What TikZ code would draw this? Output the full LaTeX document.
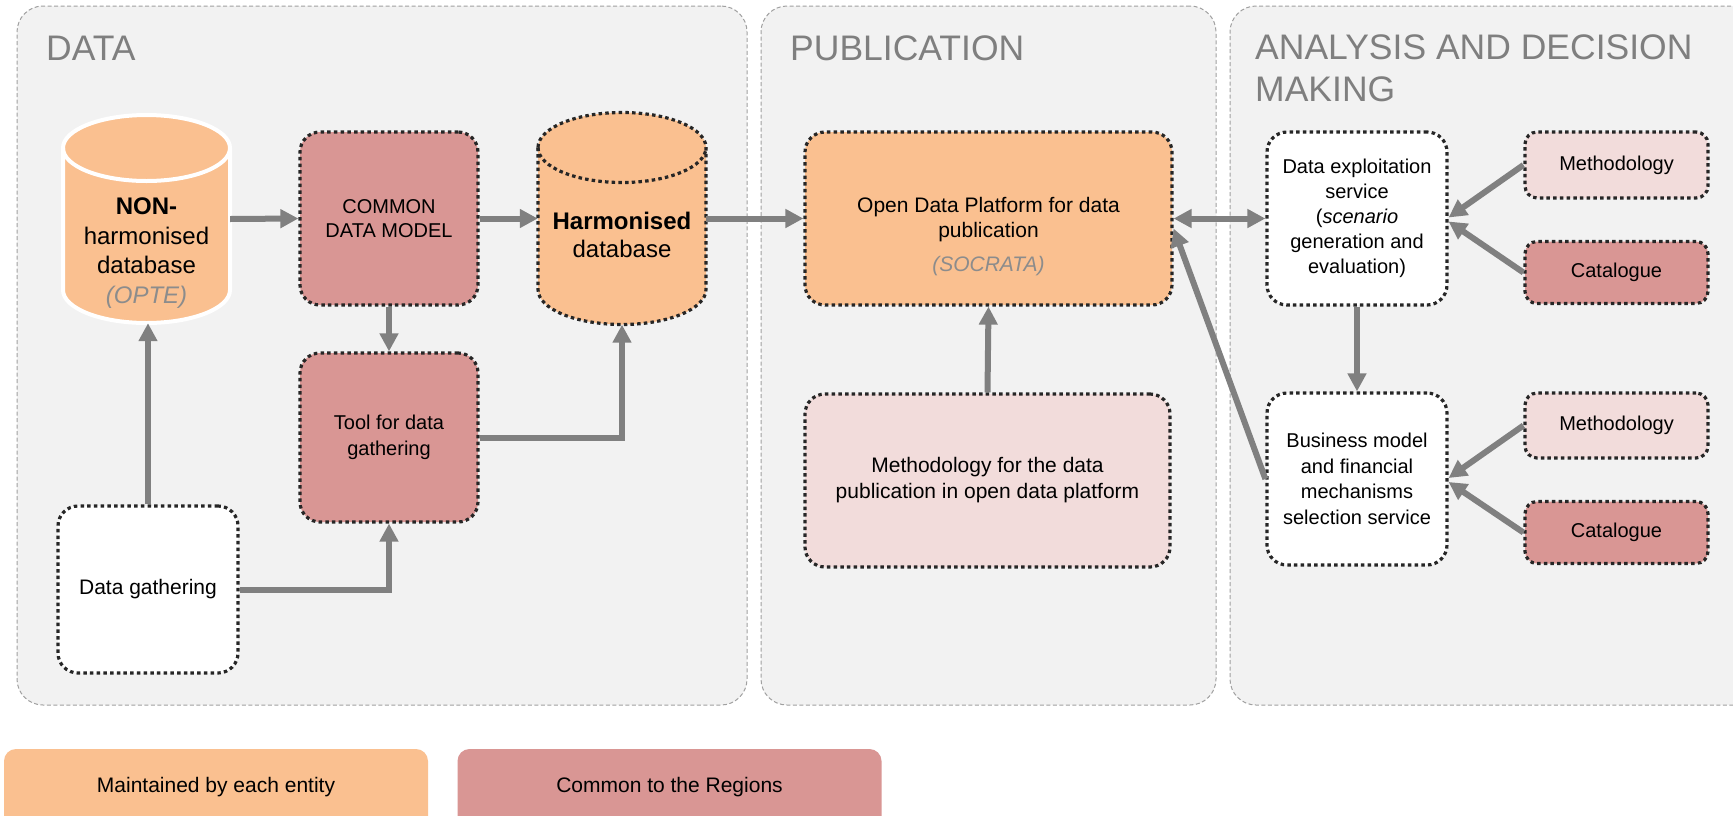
\documentclass[tikz,border=0pt]{standalone}
\usepackage{fontspec}
\setmainfont{Liberation Sans}
\usetikzlibrary{arrows.meta}
\definecolor{orangec}{HTML}{FAC090}
\definecolor{redc}{HTML}{D99694}
\definecolor{pinkc}{HTML}{F2DCDB}
\definecolor{panelfill}{HTML}{F2F2F2}
\definecolor{panelline}{HTML}{A0A0A0}
\definecolor{arrowc}{HTML}{808080}
\definecolor{dotc}{HTML}{262626}
\definecolor{greytext}{HTML}{8C8C8C}
\definecolor{titlec}{HTML}{7F7F7F}
\newcommand\myfs[2]{\fontsize{#1}{#2}\selectfont}
% #1 style, #2 cx, #3 top, #4 bottom, #5 rx, #6 ry
\newcommand\mycyl[6]{%
\path[#1] ({#2-#5},{#3+#6}) -- ({#2-#5},{#4-#6})
 .. controls ({#2-#5},{#4-#6+0.5523*#6}) and ({#2-0.5523*#5},{#4}) .. ({#2},{#4})
 .. controls ({#2+0.5523*#5},{#4}) and ({#2+#5},{#4-#6+0.5523*#6}) .. ({#2+#5},{#4-#6})
 -- ({#2+#5},{#3+#6})
 .. controls ({#2+#5},{#3+#6-0.5523*#6}) and ({#2+0.5523*#5},{#3}) .. ({#2},{#3})
 .. controls ({#2-0.5523*#5},{#3}) and ({#2-#5},{#3+#6-0.5523*#6}) .. ({#2-#5},{#3+#6}) -- cycle;
\path[#1,fill=none] ({#2-#5},{#3+#6})
 .. controls ({#2-#5},{#3+#6+0.5523*#6}) and ({#2-0.5523*#5},{#3+2*#6}) .. ({#2},{#3+2*#6})
 .. controls ({#2+0.5523*#5},{#3+2*#6}) and ({#2+#5},{#3+#6+0.5523*#6}) .. ({#2+#5},{#3+#6});}
\tikzset{
 panel/.style={draw=panelline, fill=panelfill, line width=1pt, dash pattern=on 4pt off 2.5pt, rounded corners=26pt, inner sep=0pt},
 title/.style={text=titlec, font=\myfs{35.5}{42}, inner sep=0pt, align=left},
 dotbox/.style={draw=dotc, line width=3.2pt, dash pattern=on 3.5pt off 3.2pt, rounded corners=20pt, inner sep=0pt, align=center, font=\myfs{20}{24}},
 smallbox/.style={dotbox, rounded corners=12pt, minimum width=183pt, font=\myfs{20}{24}},
 ghost/.style={inner sep=0pt},
 txt/.style={inner sep=0pt, align=center},
 legend/.style={inner sep=0pt, rounded corners=12pt, minimum width=424pt, minimum height=90pt},
 arr/.style={draw=arrowc, line width=6pt, -{Triangle[length=18pt,width=18pt]}},
 darr/.style={draw=arrowc, line width=6pt, {Triangle[length=18pt,width=18pt]}-{Triangle[length=18pt,width=18pt]}},
 cylwhite/.style={fill=orangec, draw=white, line width=4pt},
 cyldot/.style={fill=orangec, draw=dotc, line width=3.2pt, dash pattern=on 3.5pt off 3.2pt},
}
\begin{document}
\begin{tikzpicture}[x=1pt, y=-1pt]
\useasboundingbox (0,0) rectangle (1733,815);
\clip (0,0) rectangle (1733,815);
\fill[white] (0,0) rectangle (1733,815);
% panels
\node[panel, minimum width=730pt, minimum height=699pt] (pdata) at (382,355.5) {};
\node[panel, minimum width=455pt, minimum height=699pt] (ppub) at (988.5,355.5) {};
\node[panel, minimum width=540pt, minimum height=699pt] (pana) at (1500,355.5) {};
\node[title, anchor=base west] (tdata) at (46,60) {DATA};
\node[title, anchor=base west] (tpub) at (790,60) {PUBLICATION};
\node[title, anchor=north west] (tana) at (1255,34.6) {ANALYSIS AND DECISION\\MAKING};
% cylinders
\node[ghost, minimum width=167pt, minimum height=208pt] (nh) at (146.5,219) {};
\node[ghost, minimum width=168pt, minimum height=212pt] (hd) at (622,218.5) {};
\mycyl{cylwhite}{146.5}{115}{323}{83.5}{33}
\mycyl{cyldot}{622}{112.5}{324.5}{84}{35}
\node[txt, font=\myfs{24}{29.5}] (nhtext) at (146.5,253) {\textbf{NON-}\\harmonised\\database\\{\color{greytext}\itshape (OPTE)}};
\node[txt, font=\myfs{24}{28}] (hdtext) at (622,235) {\textbf{Harmonised}\\database};
% boxes
\node[dotbox, fill=redc, minimum width=178pt, minimum height=173pt] (cdm) at (389,218.5) {COMMON\\DATA MODEL};
\node[dotbox, fill=redc, minimum width=178pt, minimum height=169pt, font=\myfs{20}{26}] (tool) at (389,437.5) {Tool for data\\gathering};
\node[dotbox, fill=white, minimum width=180pt, minimum height=167pt, font=\myfs{21}{25}] (dg) at (148,589.5) {Data gathering};
\node[dotbox, fill=orangec, minimum width=367pt, minimum height=173pt] (odp) at (988.5,218.5) {};
\node[txt, font=\myfs{21}{25}] (odptext) at (988.5,237) {Open Data Platform for data\\publication\\[9pt]{\color{greytext}\itshape (SOCRATA)}};
\node[dotbox, fill=pinkc, minimum width=365pt, minimum height=173pt, font=\myfs{21}{26}] (mp) at (987.5,480.5) {Methodology for the data\\publication in open data platform};
\node[dotbox, fill=white, minimum width=180pt, minimum height=173pt, font=\myfs{20}{25}] (de) at (1357,218.5) {Data exploitation\\service\\(\textit{scenario}\\generation and\\evaluation)};
\node[dotbox, fill=white, minimum width=180pt, minimum height=172pt, font=\myfs{20}{25.5}] (bm) at (1357,479) {Business model\\and financial\\mechanisms\\selection service};
\node[smallbox, fill=pinkc, minimum height=66pt] (m1) at (1616.5,165) {Methodology};
\node[smallbox, fill=redc, minimum height=62pt] (c1) at (1616.5,272.5) {Catalogue};
\node[smallbox, fill=pinkc, minimum height=65pt] (m2) at (1616.5,425.5) {Methodology};
\node[smallbox, fill=redc, minimum height=62pt] (c2) at (1616.5,532.5) {Catalogue};
% legend
\node[legend, fill=orangec] (l1) at (216,794) {};
\node[legend, fill=redc] (l2) at (669.5,794) {};
\node[anchor=base, inner sep=0pt, font=\myfs{21}{25}] (l1t) at (216,792) {Maintained by each entity};
\node[anchor=base, inner sep=0pt, font=\myfs{21}{25}] (l2t) at (669.5,792) {Common to the Regions};
% connectors
\draw[arr] (nh.east) -- (cdm.west);
\draw[arr] (cdm.east) -- (hd.west);
\draw[arr] (hd.east) -- (odp.west);
\draw[arr] (cdm.south) -- (tool.north);
\draw[arr] (tool.east) -- (tool.east -| hd.south) -- (hd.south);
\draw[arr] (dg.north) -- (dg.north |- nh.south);
\draw[arr] (dg.east) -- (dg.east -| tool.south) -- (tool.south);
\draw[arr] (mp.north) -- (odp.south);
\draw[darr] (odp.east) -- (de.west);
\draw[arr] (bm.west) -- ([yshift=-10pt]odp.east);
\draw[arr] (de.south) -- (bm.north);
\draw[arr] (m1.west) -- ([yshift=1pt]de.east);
\draw[arr] (c1.west) -- ([yshift=-3pt]de.east);
\draw[arr] (m2.west) -- ([yshift=1pt]bm.east);
\draw[arr] (c2.west) -- ([yshift=-3pt]bm.east);
\end{tikzpicture}
\end{document}
